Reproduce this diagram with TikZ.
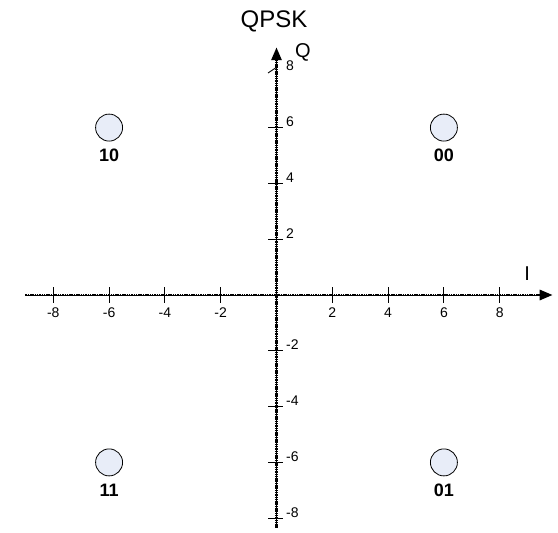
\documentclass[tikz,border=0pt]{standalone}
\usepackage{fontspec}
\setmainfont{Liberation Sans}
\usetikzlibrary{arrows.meta}
\definecolor{symfill}{HTML}{E8EDF8}
\begin{document}
\begin{tikzpicture}[x=1pt,y=-1pt,
  axis/.style={line width=2.8pt, dash pattern=on 1.5pt off 0.8pt, -{Triangle[length=13pt,width=10pt]}},
  axiscore/.style={line width=0.7pt, shorten >=6pt},
  tickmark/.style={line width=0.9pt},
  ticklbl/.style={font=\fontsize{14}{14}\selectfont, inner sep=0pt},
  sym/.style={circle, draw=black, line width=0.8pt, fill=symfill, minimum size=27pt, inner sep=0pt},
  symlbl/.style={font=\fontsize{18}{18}\selectfont\bfseries, inner sep=0pt},
  axlbl/.style={font=\fontsize{20}{20}\selectfont, inner sep=0pt}]
\useasboundingbox (0,0) rectangle (558,533);
\node[font=\fontsize{24}{24}\selectfont, inner sep=0pt] (title) at (274,21) {QPSK};
\begin{scope}[shift={(276.5,295)}, x=27.9pt, y=27.9pt]
  \coordinate (xs) at (-9.0,0);
  \coordinate (xe) at (9.9,0);
  \coordinate (ys) at (0,-8.35);
  \coordinate (ye) at (0,8.88);
  \draw[axiscore] (xs) -- (xe);
  \draw[axiscore] (ys) -- (ye);
  \draw[axis] (xs) -- (xe);
  \draw[axis] (ys) -- (ye);
  % ticks on I axis
  \foreach \i in {-8,-6,-4,-2,2,4,6,8}{
    \draw[tickmark] ([yshift=8pt]\i,0) -- ([yshift=-8pt]\i,0);
    \node[ticklbl] (xl\i) at ([yshift=-18pt]\i,0) {\i};
  }
  % ticks on Q axis
  \foreach \j in {-8,-6,-4,-2,2,4,6}{
    \draw[tickmark] ([xshift=-8.5pt]0,\j) -- ([xshift=6pt]0,\j);
  }
  \draw[tickmark] ([xshift=-8.5pt,yshift=-1.2pt]0,8) -- ([xshift=0.5pt,yshift=4.8pt]0,8);
  \foreach \j in {-8,-6,-4,-2,2,4,6,8}{
    \node[ticklbl, anchor=west] (yl\j) at ([xshift=9.5pt,yshift=6pt]0,\j) {\j};
  }
  \node[axlbl] (qlbl) at (0.95,8.71) {Q};
  \node[axlbl] (ilbl) at (8.98,0.75) {I};
  % symbols
  \node[sym] (s00) at (6,6) {};
  \node[sym] (s10) at (-6,6) {};
  \node[sym] (s11) at (-6,-6) {};
  \node[sym] (s01) at (6,-6) {};
  \node[symlbl] (l00) at ([yshift=-28pt]s00.center) {00};
  \node[symlbl] (l10) at ([yshift=-28pt]s10.center) {10};
  \node[symlbl] (l11) at ([yshift=-28pt]s11.center) {11};
  \node[symlbl] (l01) at ([yshift=-28pt]s01.center) {01};
\end{scope}
\end{tikzpicture}
\end{document}
